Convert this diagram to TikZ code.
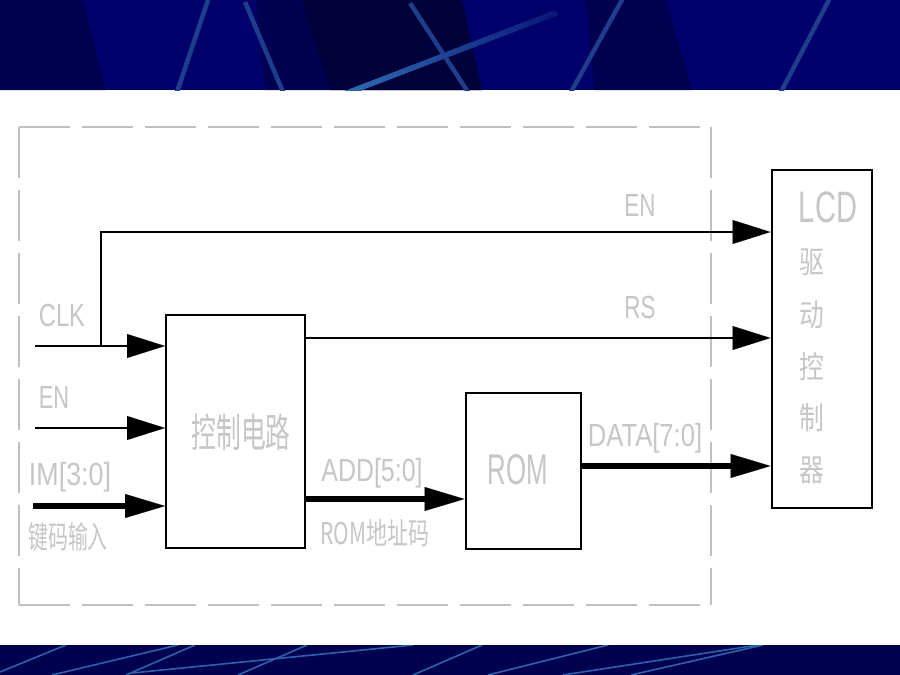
\documentclass[tikz,border=0pt]{standalone}
\usepackage{fontspec}
\usepackage{graphicx}
\setmainfont{Liberation Sans}
\newfontfamily\cjk{Noto Sans CJK SC}
\usetikzlibrary{arrows.meta,calc}
\definecolor{navy}{RGB}{0,0,108}
\definecolor{navydark}{RGB}{0,0,80}
\definecolor{navydeep}{RGB}{0,0,58}
\definecolor{navybot}{RGB}{0,0,80}
\definecolor{streak}{RGB}{30,62,140}
\definecolor{bright}{RGB}{45,110,180}
\definecolor{botline}{RGB}{40,100,170}
\definecolor{lbltext}{RGB}{198,198,198}
\definecolor{framegray}{RGB}{192,192,192}
\begin{document}
\begin{tikzpicture}[x=1pt,y=-1pt,
  lbl/.style={text=lbltext, inner sep=0pt, font=\fontsize{32}{32}\selectfont},
  cjklbl/.style={text=lbltext, inner sep=0pt},
  blockbox/.style={draw=black, line width=2pt, inner sep=0pt, fill=white},
  sig/.style={line width=1.3pt, -{Triangle[length=38pt,width=24pt,line width=0.1pt]}},
  bus/.style={line width=6.5pt, -{Triangle[length=40pt,width=24pt,line width=0.1pt]}},
  frameline/.style={draw=framegray, line width=1.1pt, dash pattern=on 51pt off 12pt},
  topstreak/.style={draw=streak, line width=4.5pt},
  botstreak/.style={draw=botline, line width=1.6pt}
]
\useasboundingbox (0,0) rectangle (900,675);
\fill[white] (0,0) rectangle (900,675);
% top band
\fill[navy] (0,0) rectangle (900,90);
\fill[navydark] (0,0) -- (83,0) -- (106,90) -- (0,90) -- cycle;
\fill[navydark] (256,0) -- (462,0) -- (482,90) -- (265,90) -- cycle;
\fill[navydeep] (302,0) -- (462,0) -- (482,90) -- (330,90) -- cycle;
\fill[navydark] (586,0) -- (666,0) -- (692,90) -- (594,90) -- cycle;
\begin{scope}
\clip (0,0) rectangle (900,90);
\draw[topstreak] (208,0) -- (177,92);
\draw[topstreak] (245,2) -- (283,92);
\draw[topstreak] (410,3) -- (468,92);
\draw[topstreak] (623,-2) -- (571,92);
\draw[topstreak] (830,-2) -- (781,92);
\fill[left color=bright, right color=navy!80!bright] (342,92) -- (555,10) -- (559,15) -- (357,92) -- cycle;
\end{scope}
% bottom band
\fill[navybot] (0,645) rectangle (900,675);
\begin{scope}
\clip (0,645) rectangle (900,675);
\draw[botstreak] (0,672) -- (66,645);
\draw[botstreak] (52,675) -- (178,645);
\draw[botstreak] (126,675) -- (195,645);
\draw[botstreak] (132,673) -- (413,645);
\draw[botstreak] (238,675) -- (307,645);
\draw[botstreak] (413,675) -- (482,645);
\draw[botstreak] (488,675) -- (608,645);
\draw[botstreak] (563,675) -- (758,645);
\draw[botstreak] (631,675) -- (763,645);
\end{scope}
% dashed frame
\coordinate (ftl) at (19,127);
\coordinate (ftr) at (711,127);
\coordinate (fbl) at (19,605);
\coordinate (fbr) at (711,605);
\draw[frameline] (ftl) -- (ftr);
\draw[frameline] (ftl) -- (fbl);
\draw[frameline] (ftr) -- (fbr);
\draw[frameline] (fbl) -- (fbr);
% blocks
\node[blockbox, minimum width=139pt, minimum height=233pt] (ctrl) at (235.5,431.5) {};
\node[blockbox, minimum width=115pt, minimum height=156pt] (rom) at (523,471) {};
\node[blockbox, minimum width=100pt, minimum height=338pt] (lcd) at (821.5,339) {};
% block texts
\node[cjklbl, font=\cjk\fontsize{40}{40}\selectfont] (ctrlt) at (241,432) {\scalebox{0.62}[1]{控制电路}};
\node[lbl, font=\fontsize{43}{43}\selectfont] (romt) at (518,470) {\scalebox{0.6}[1]{ROM}};
\node[lbl, font=\fontsize{44}{44}\selectfont] (lcdt) at (828,207) {\scalebox{0.66}[1]{LCD}};
\node[cjklbl, font=\cjk\fontsize{31}{31}\selectfont] (lcd1) at (812,262) {\scalebox{0.8}[1]{驱}};
\node[cjklbl, font=\cjk\fontsize{31}{31}\selectfont] (lcd2) at (812,315) {\scalebox{0.8}[1]{动}};
\node[cjklbl, font=\cjk\fontsize{31}{31}\selectfont] (lcd3) at (812,367) {\scalebox{0.8}[1]{控}};
\node[cjklbl, font=\cjk\fontsize{31}{31}\selectfont] (lcd4) at (812,418) {\scalebox{0.8}[1]{制}};
\node[cjklbl, font=\cjk\fontsize{31}{31}\selectfont] (lcd5) at (812,470) {\scalebox{0.8}[1]{器}};
% signal labels
\node[lbl] (clkl) at (62,315) {\scalebox{0.74}[1]{CLK}};
\node[lbl] (enl) at (54,397) {\scalebox{0.68}[1]{EN}};
\node[lbl] (iml) at (70,477) {\scalebox{0.84}[1]{IM[3:0]}};
\node[cjklbl, font=\cjk\fontsize{31}{31}\selectfont] (keyl) at (68,537) {\scalebox{0.64}[1]{键码输入}};
\node[lbl] (enol) at (640,205) {\scalebox{0.7}[1]{EN}};
\node[lbl] (rsl) at (640,307) {\scalebox{0.7}[1]{RS}};
\node[lbl] (datal) at (645,438) {\scalebox{0.8}[1]{DATA[7:0]}};
\node[lbl] (addl) at (372,473) {\scalebox{0.78}[1]{ADD[5:0]}};
\node[cjklbl, font=\cjk\fontsize{30}{30}\selectfont] (romal) at (375,533) {\scalebox{0.7}[1]{ROM地址码}};
% connectors
\coordinate (clkin) at (35,346);
\coordinate (br) at (101,346);
\coordinate (enin) at (35,428);
\coordinate (imin) at (33,506);
\coordinate (enY) at (0,232);
\coordinate (rsY) at (0,338);
\coordinate (addY) at (0,499);
\coordinate (dataY) at (0,466);
\draw[sig] (clkin) -- (clkin -| ctrl.west);
\draw[sig] (br) |- (enY -| lcd.west);
\draw[sig] (enin) -- (enin -| ctrl.west);
\draw[bus] (imin) -- (imin -| ctrl.west);
\draw[sig] (rsY -| ctrl.east) -- (rsY -| lcd.west);
\draw[bus] (addY -| ctrl.east) -- (addY -| rom.west);
\draw[bus] (dataY -| rom.east) -- (dataY -| lcd.west);
\end{tikzpicture}
\end{document}
